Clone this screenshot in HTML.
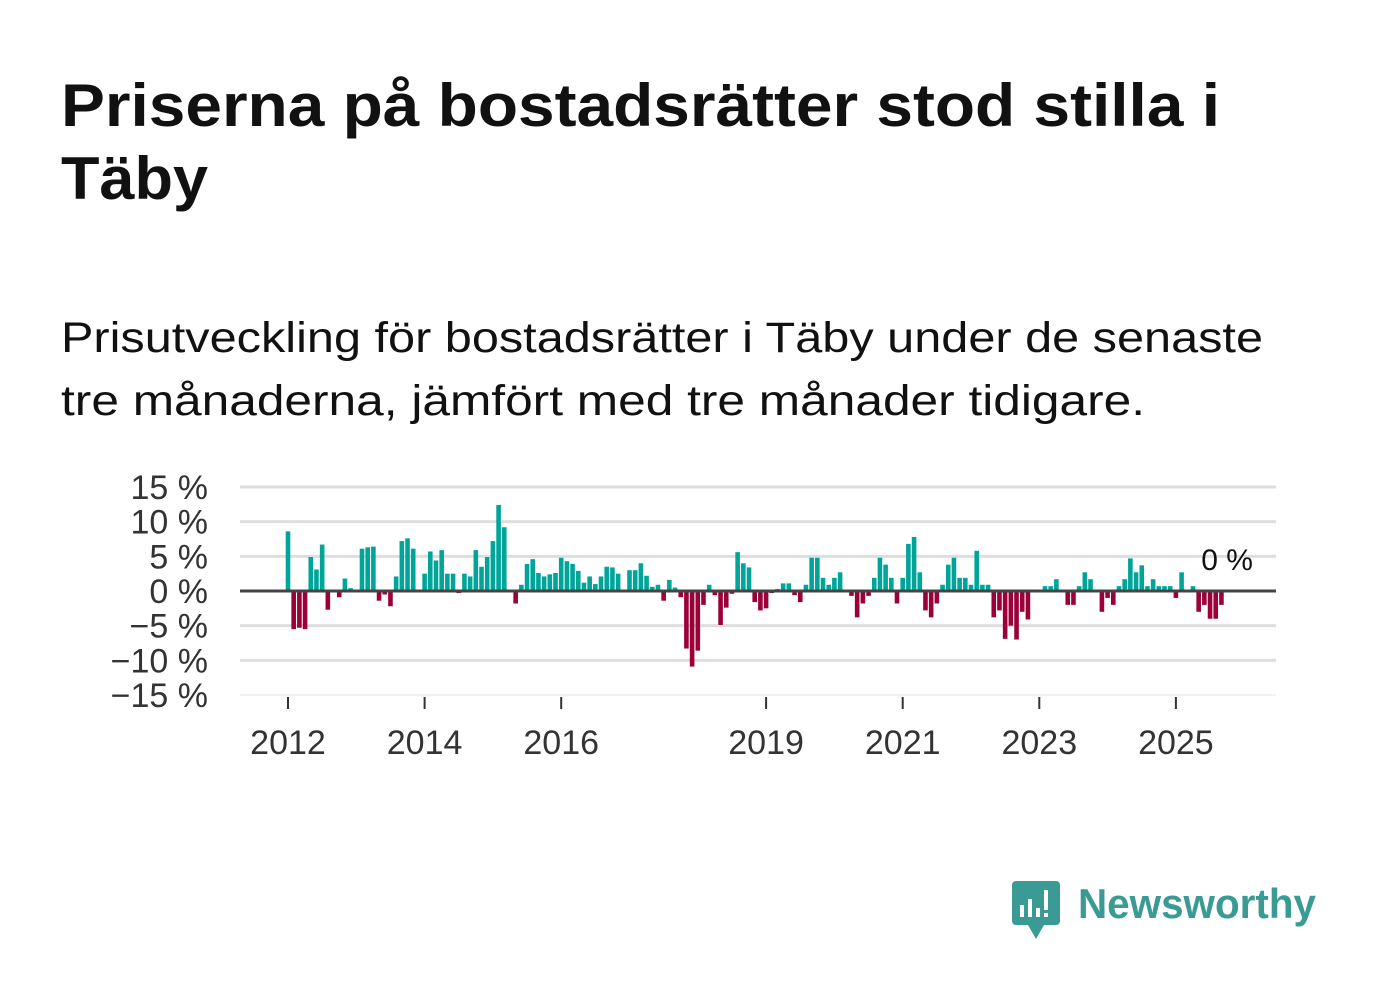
<!DOCTYPE html>
<html><head><meta charset="utf-8"><style>
body{margin:0;background:#fff;font-family:"Liberation Sans",sans-serif;}
svg text{font-family:"Liberation Sans",sans-serif;}
</style></head><body>
<svg id="chart" width="1382" height="999" xmlns="http://www.w3.org/2000/svg">
<text x="61" y="126" font-size="60" font-weight="bold" fill="#111" textLength="1159" lengthAdjust="spacingAndGlyphs">Priserna på bostadsrätter stod stilla i</text>
<text x="61" y="199" font-size="60" font-weight="bold" fill="#111" textLength="147" lengthAdjust="spacingAndGlyphs">Täby</text>
<text x="61" y="352" font-size="43" fill="#111" textLength="1202" lengthAdjust="spacingAndGlyphs">Prisutveckling för bostadsrätter i Täby under de senaste</text>
<text x="61" y="415" font-size="43" fill="#111" textLength="1084" lengthAdjust="spacingAndGlyphs">tre månaderna, jämfört med tre månader tidigare.</text>
<g id="grid"></g><g id="bars"></g><g id="axes"></g>
<g>
<rect x="1012" y="881" width="48" height="44" rx="4" fill="#3a9a94"/>
<polygon points="1028,925 1044,925 1036,939" fill="#3a9a94"/>
<rect x="1020" y="905" width="4" height="12" fill="#fff"/><rect x="1028" y="899" width="4" height="18" fill="#fff"/><rect x="1036" y="908" width="4" height="9" fill="#fff"/><rect x="1044" y="890" width="4" height="20" fill="#fff"/><rect x="1044" y="913" width="4" height="4" fill="#fff"/>
<text x="1078" y="918" font-size="42" font-weight="bold" fill="#3a9a94" textLength="238" lengthAdjust="spacingAndGlyphs">Newsworthy</text>
</g>
</svg>
<script>
const values=[8.6,-5.5,-5.3,-5.5,4.9,3.1,6.7,-2.7,0,-0.9,1.8,0.4,0,6.1,6.3,6.4,-1.4,-0.5,-2.2,2.1,7.2,7.6,6.1,0,2.5,5.7,4.4,5.9,2.5,2.5,-0.3,2.5,2.1,5.9,3.5,4.9,7.2,12.4,9.2,0,-1.8,0.9,3.9,
4.6,2.6,2.1,2.4,2.6,4.8,4.3,3.9,2.9,1.2,2.1,1.0,2.1,3.5,3.4,2.5,0,3.0,3.0,4.0,2.2,0.6,0.9,-1.4,1.6,0.5,-0.9,-8.3,-10.9,-8.6,-2.0,0.9,-0.6,-4.9,-2.4,-0.4,5.6,4.0,3.4,-1.6,-2.8,-2.5,
-0.3,0.3,1.1,1.1,-0.6,-1.6,0.9,4.8,4.8,1.9,0.9,1.9,2.7,0,-0.7,-3.8,-1.8,-0.7,1.9,4.8,3.8,1.9,-1.8,1.9,6.8,7.8,2.7,-2.8,-3.8,-1.8,0.9,3.8,4.8,1.9,1.9,0.9,5.8,0.9,0.9,-3.8,-2.8,-6.9,
-5.0,-7.0,-3.0,-4.1,0,0,0.7,0.7,1.7,0,-2.0,-2.0,0.7,2.7,1.7,0,-3.0,-1.0,-2.0,0.7,1.7,4.7,2.7,3.7,0.7,1.7,0.7,0.7,0.7,-1.0,2.7,0,0.7,-3.0,-2.0,-4.0,-4.0,-2.0,0];
const startYear=2012;
const yTicks=[15,10,5,0,-5,-10,-15];
const yTickLabels=["15 %","10 %","5 %","0 %","−5 %","−10 %","−15 %"];
const xTickYears=[2012,2014,2016,2019,2021,2023,2025];
const lastLabel="0 %";
const NS="http://www.w3.org/2000/svg";
const X0=240,X1=1276;
const y=v=>591-v*(104/15);
const x=i=>288+i*(68.3/12);
const grid=document.getElementById('grid'),bars=document.getElementById('bars'),axes=document.getElementById('axes');
function mk(tag,at,parent){const e=document.createElementNS(NS,tag);for(const k in at)e.setAttribute(k,at[k]);parent.appendChild(e);return e;}
yTicks.forEach((t,k)=>{
 if(t!==0){const l=mk('line',{x1:X0,x2:X1,y1:y(t),y2:y(t),stroke:t===-15?'#e6e6e6':'#dedede','stroke-width':t===-15?1:3},grid);
 
 }
 const tx=mk('text',{x:208,y:y(t)+12,'text-anchor':'end','font-size':34,fill:'#333'},axes);
 tx.textContent=yTickLabels[k];
 
 
});
values.forEach((v,i)=>{
 if(v===0)return;
 const r=mk('rect',{x:x(i)-2.3,width:4.6,y:Math.min(y(v),y(0)),height:Math.abs(y(v)-y(0)),fill:v>0?'#00a59a':'#9b0039'},bars);
 
 
});
const z=mk('line',{x1:X0,x2:X1,y1:y(0),y2:y(0),stroke:'#444','stroke-width':3},axes);


xTickYears.forEach(yr=>{
 const xx=x((yr-startYear)*12);
 const t=mk('line',{x1:xx,x2:xx,y1:697,y2:709,stroke:'#333','stroke-width':2},axes);
 
 
 const tx=mk('text',{x:xx,y:754,'text-anchor':'middle','font-size':34,fill:'#333'},axes);
 tx.textContent=yr;
 
 
});
const li=values.length-1;
const lb=mk('text',{x:x(li),y:y(values[li])-21,'text-anchor':'middle','font-size':30,fill:'#111'},axes);
lb.textContent=lastLabel;


</script>
</body></html>
